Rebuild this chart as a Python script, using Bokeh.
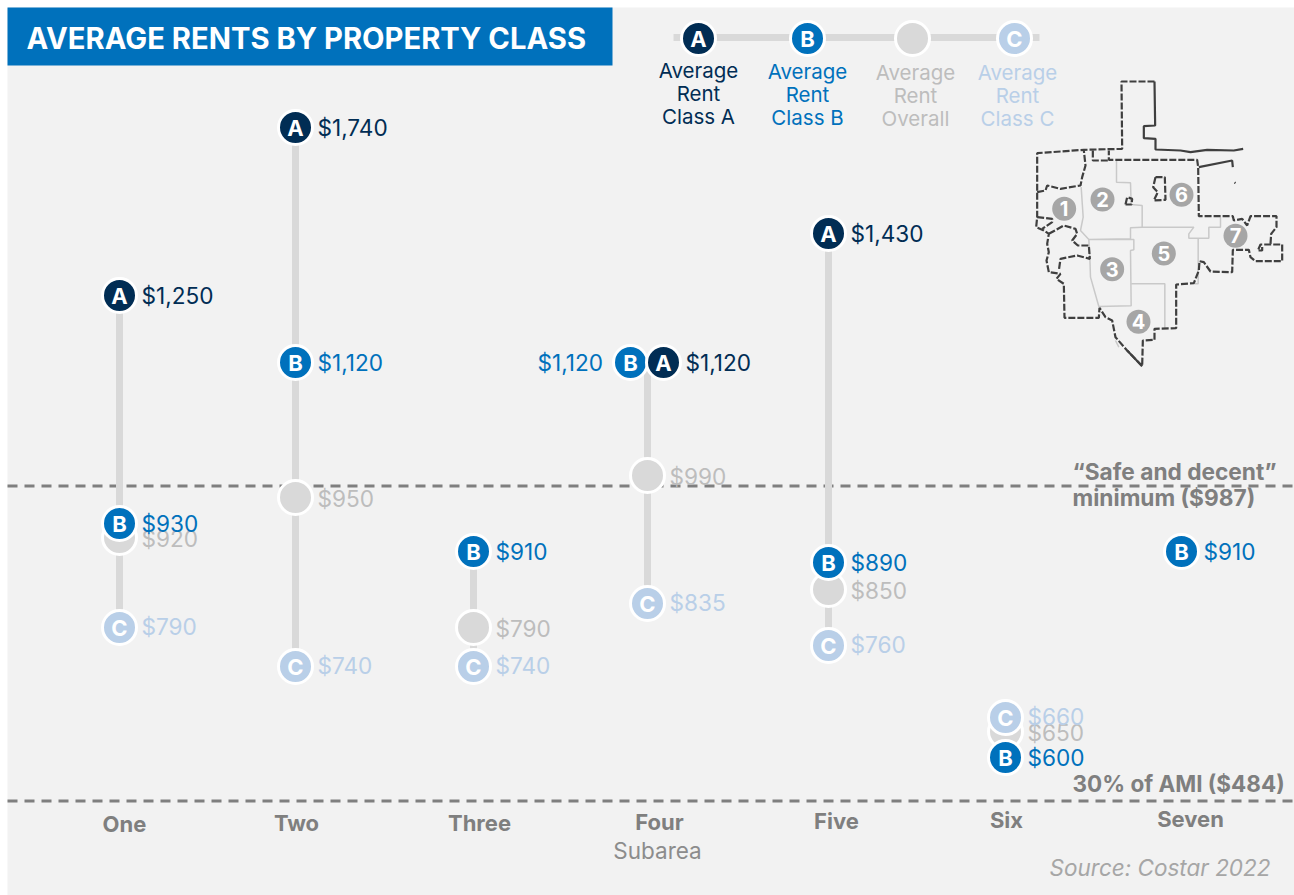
from bokeh.plotting import figure
from bokeh.models import Range1d
from bokeh.core.properties import value
from bokeh.embed import file_html
from bokeh.resources import INLINE
import numpy as np

TITLE = "AVERAGE RENTS BY PROPERTY CLASS"
subareas = ["One", "Two", "Three", "Four", "Five", "Six", "Seven"]
class_a = [1250, 1740, None, 1120, 1430, None, None]
class_b = [930, 1120, 910, 1120, 890, 600, 910]
overall = [920, 950, 790, 990, 850, 650, None]
class_c = [790, 740, 740, 835, 760, 660, None]
safe_min = 987
ami_30 = 484
legend_names = [["Average", "Rent", "Class A"], ["Average", "Rent", "Class B"],
                ["Average", "Rent", "Overall"], ["Average", "Rent", "Class C"]]

# The source axis is hand-placed and not linear: rent level -> page height.
scale_rent = [484, 600, 650, 660, 740, 760, 790, 835, 850, 890, 910, 920, 930, 950, 987, 990, 1120, 1250, 1430, 1740]
scale_page = [801, 757, 731, 717, 666, 645, 627, 603, 589, 562, 551, 537, 523, 497, 486, 475, 362, 295, 233, 127]
def Y(v):
    return float(np.interp(v, scale_rent, scale_page))

FONT = "Inter"
NAVY, BLUE, GREY, PALE = "#012d54", "#0071bc", "#d9d9d9", "#b9cfe8"
GREY_T, PALE_T, DARK_T = "#bdbdbd", "#b9cfe8", "#7f7f7f"
BG = "#f2f2f2"

p = figure(width=1294, height=895, output_backend="svg", toolbar_location=None,
           x_range=Range1d(0, 1294), y_range=Range1d(895, 0),
           x_axis_location=None, y_axis_location=None, min_border=0,
           background_fill_color="white", border_fill_color="white", outline_line_color=None)
p.grid.visible = False

def T(x, y, s, color, size, align="left", style="normal"):
    p.text([x], [y - 1], text=[s], text_color=color, text_font=value(FONT), text_font_size=f"{size}px",
           text_align=align, text_baseline="middle", text_font_style=style)

# Panel and header
p.quad(left=[7], right=[1294], top=[7], bottom=[895], fill_color=BG, line_color=None)
p.quad(left=[7], right=[612], top=[7], bottom=[65], fill_color="#0071bc", line_color=None)
T(26, 39, TITLE, "white", 29.2, style="bold")

# Reference lines
for v in (safe_min, ami_30):
    p.line([7, 1294], [Y(v) - 0.5, Y(v) - 0.5], line_color="#7f7f7f", line_width=3, line_dash="10 7")
T(1072, 472, "\u201cSafe and decent\u201d", DARK_T, 22.7, style="bold")
T(1072, 498, f"minimum (${safe_min})", DARK_T, 22.7, style="bold")
T(1072, 784, f"30% of AMI (${ami_30})", DARK_T, 22.5, style="bold")

# Points
xs = [119, 295, 473, 647, 828, 1005, 1181]
split_a = [0, 0, 0, 16, 0, 0, 0]
split_b = [0, 0, 0, -17, 0, 0, 0]

for i in range(len(subareas)):
    vals = [s[i] for s in (class_a, class_b, overall, class_c) if s[i] is not None]
    p.line([xs[i], xs[i]], [Y(max(vals)), Y(min(vals))], line_color=GREY, line_width=7)

def dots(series, fill, letter, text_color, off=None, label_dy=1, left_idx=()):
    off = off or [0] * len(series)
    idx = [i for i, v in enumerate(series) if v is not None]
    X = [xs[i] + off[i] for i in idx]
    YY = [Y(series[i]) for i in idx]
    p.scatter(X, YY, size=34, fill_color=fill, line_color="white", line_width=3)
    if letter:
        p.text(X, [y for y in YY], text=[letter] * len(idx), text_color="white", text_font=value(FONT),
               text_font_size="22px", text_font_style="bold", text_align="center", text_baseline="middle")
    for i, x, y in zip(idx, X, YY):
        if i in left_idx:
            T(x - 93, y + label_dy, f"${series[i]:,}", text_color, 22.6)
        else:
            T(x + 22, y + label_dy, f"${series[i]:,}", text_color, 22.6)

dots(overall, GREY, None, GREY_T, label_dy=2)
dots(class_c, PALE, "C", PALE_T, label_dy=0)
dots(class_b, BLUE, "B", BLUE, off=split_b, left_idx=(3,), label_dy=0.5)
dots(class_a, NAVY, "A", NAVY, off=split_a, label_dy=1)

# Category labels
tick_x = [124, 296, 479, 659, 836, 1006, 1190]
tick_y = [823, 822, 822, 821, 820, 819, 818]
p.text(tick_x, tick_y, text=subareas, text_color=DARK_T, text_font=value(FONT), text_font_size="22px",
       text_font_style="bold", text_align="center", text_baseline="middle")
T(657, 851, "Subarea", "#8c8c8c", 22.5, align="center")
T(1270, 868, "Source: Costar 2022", "#a6a6a6", 22.5, align="right", style="italic")

# Legend
lx = [698, 807, 912, 1014]
p.line([673, 1039], [37, 37], line_color=GREY, line_width=7)
p.scatter(lx, [38] * 4, size=34, fill_color=[NAVY, BLUE, GREY, PALE], line_color="white", line_width=3)
p.text([lx[0], lx[1], lx[3]], [38] * 3, text=["A", "B", "C"], text_color="white", text_font=value(FONT),
       text_font_size="22px", text_font_style="bold", text_align="center", text_baseline="middle")
leg_x = [698, 807, 915, 1017]
leg_y = [71, 72, 73, 73]
leg_c = [NAVY, BLUE, GREY_T, PALE_T]
for names, x, y, c in zip(legend_names, leg_x, leg_y, leg_c):
    for j, s in enumerate(names):
        T(x, y + 23 * j, s, c, 20.5, align="center")

# Locator map, traced in a 3x crop of the picture
def mx(a): return [1020 + q[0] / 3 for q in a]
def my(a): return [70 + q[1] / 3 for q in a]

map_solid = [
    [(402, 33), (404, 165), (370, 167), (370, 203), (405, 205), (405, 237), (480, 240), (510, 245), (560, 238), (640, 240), (668, 235)],
    [(535, 290), (635, 270), (637, 290)],
    [(642, 336), (645, 338)],
    [(320, 840), (365, 887)],
]
map_dashed = [
    [(402, 33), (303, 33), (305, 235), (190, 238), (50, 248), (50, 440), (47, 470), (70, 480), (85, 490), (80, 520), (85, 545), (78, 570),
     (85, 605), (120, 610), (108, 625), (130, 640), (132, 742), (235, 742), (237, 712), (255, 740), (275, 750),
     (285, 800), (320, 840), (365, 887), (367, 810), (402, 808), (402, 775), (467, 773), (467, 642), (520, 638),
     (535, 600), (537, 572), (550, 575), (570, 603), (635, 605), (637, 538), (685, 538), (690, 560), (705, 572),
     (785, 572), (785, 522), (720, 522), (712, 540), (725, 540), (725, 528)],
    [(750, 520), (752, 490), (768, 470), (768, 437), (690, 437), (680, 465), (665, 445), (640, 450), (637, 437), (535, 437),
     (533, 290), (530, 268), (265, 268), (265, 240)],
    [(217, 240), (217, 270), (265, 270)],
    [(50, 365), (75, 360), (80, 345), (120, 355), (180, 345), (185, 320), (195, 285), (190, 240)],
    [(85, 490), (130, 465), (165, 475), (170, 490), (155, 510), (172, 525), (205, 525), (208, 565), (170, 555), (120, 565), (115, 600)],
    [(50, 440), (95, 445), (95, 455), (65, 475)],
    [(405, 320), (433, 320), (435, 388), (400, 390), (412, 365), (398, 350), (405, 320)],
    [(315, 402), (320, 380), (335, 385), (333, 402), (315, 402)],
]
map_inner = [
    [(288, 270), (288, 335), (330, 337), (332, 402), (365, 405), (365, 470), (520, 470), (505, 490), (505, 503), (565, 503), (565, 470), (600, 470), (600, 440)],
    [(365, 470), (330, 472), (330, 505), (205, 507), (340, 507), (340, 538), (330, 540), (332, 706), (235, 708), (210, 620), (208, 560), (205, 507), (180, 480), (188, 440), (182, 350)],
    [(332, 640), (433, 640), (433, 773)],
    [(533, 503), (533, 640), (520, 640)],
    [(285, 810), (295, 830)],
]
p.multi_line([mx(a) for a in map_inner], [my(a) for a in map_inner], line_color="#c9c9c9", line_width=1.5)
p.multi_line([mx(a) for a in map_dashed], [my(a) for a in map_dashed], line_color="#3f3f3f", line_width=2.2, line_dash="7 2")
p.multi_line([mx(a) for a in map_solid], [my(a) for a in map_solid], line_color="#3f3f3f", line_width=2.2)

badge_pts = [(131, 415), (246, 387), (275, 596), (354, 754), (430, 549), (483, 373), (645, 496)]
badge_txt = ["1", "2", "3", "4", "5", "6", "7"]
p.scatter(mx(badge_pts), my(badge_pts), size=24, fill_color="#a6a6a6", line_color=None)
p.text(mx(badge_pts), my(badge_pts), text=badge_txt, text_color="white", text_font=value(FONT),
       text_font_size="20px", text_font_style="bold", text_align="center", text_baseline="middle")

open("out.html", "w").write(file_html(p, INLINE))
